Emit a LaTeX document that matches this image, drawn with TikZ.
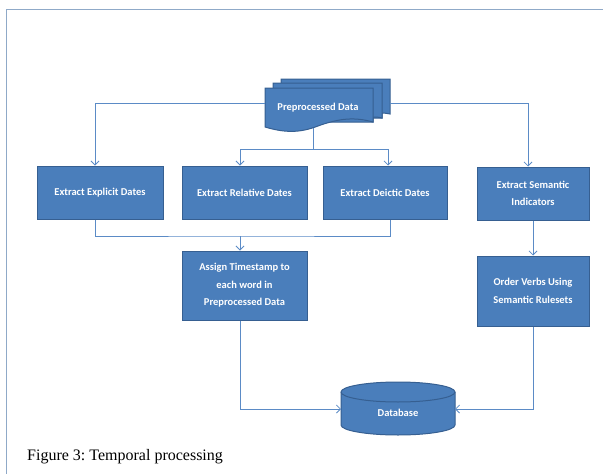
\documentclass[tikz,border=0pt]{standalone}
\usepackage{fontspec}
\setmainfont{Liberation Serif}
\newfontfamily\boxfont{Carlito}
\usetikzlibrary{arrows.meta}
\frenchspacing
\definecolor{boxfill}{HTML}{4A7EBB}
\definecolor{boxedge}{HTML}{365F91}
\definecolor{linecol}{HTML}{5B8BC6}
\definecolor{framecol}{HTML}{8FA9C8}
\tikzset{
  x=1pt, y=-1pt,
  boxtext/.style={text=white, font=\boxfont\bfseries\fontsize{10.5}{17.5}\selectfont},
  procbox/.style={boxtext, draw=boxedge, line width=1pt, fill=boxfill, align=center, inner sep=2pt},
  conn/.style={draw=linecol, line width=0.8pt},
  arr/.style={conn, -{Straight Barb[length=4pt,width=8pt]}},
  docshape/.style={draw=boxedge, line width=1pt, fill=boxfill}
}
\begin{document}
\begin{tikzpicture}
\useasboundingbox (0,0) rectangle (603,474);
% frame
\draw[framecol, line width=1.5pt] (6.5,474) -- (6.5,9.5) -- (603,9.5);

% multi-document shape
\draw[docshape] (281,79) -- (390,79) -- (390,114) .. controls (385,113) and (383,113) .. (382,113) -- (382,118) -- (281,118) -- cycle;
\draw[docshape] (273,83) -- (382,83) -- (382,118) .. controls (378,117) and (376,117) .. (373,117) -- (373,122) -- (273,122) -- cycle;
\draw[docshape] (265,88) -- (373,88) -- (373,122) .. controls (355,117) and (340,118) .. (318,126) .. controls (300,133) and (285,133) .. (265,127) -- cycle;
\node[boxtext] (pre) at (318,108) {Preprocessed Data};
\coordinate (preL) at (265,103);
\coordinate (preR) at (390,103);
\coordinate (preB) at (313,128);
\coordinate (split) at (313,149);

% boxes
\node[procbox, minimum width=126pt, minimum height=53pt] (expl) at (100,192.5) {Extract Explicit Dates};
\node[procbox, minimum width=125pt, minimum height=53pt] (rel) at (244.5,192.5) {Extract Relative Dates};
\node[procbox, minimum width=124pt, minimum height=53pt] (deic) at (385,192.5) {Extract Deictic Dates};
\node[procbox, minimum width=112pt, minimum height=53pt] (sem) at (533,193.5) {Extract Semantic\\Indicators};
\node[procbox, minimum width=125pt, minimum height=69pt] (assign) at (244.5,285.5) {Assign Timestamp to\\each word in\\Preprocessed Data};
\node[procbox, minimum width=112pt, minimum height=70pt] (order) at (533,291) {Order Verbs Using\\Semantic Rulesets};

% database cylinder
\draw[docshape] (341,392) -- (341,425) arc[start angle=180, end angle=0, x radius=57, y radius=10] -- (455,392) arc[start angle=0, end angle=-180, x radius=57, y radius=10] -- cycle;
\draw[boxedge, line width=1pt] (341,392) arc[start angle=180, end angle=0, x radius=57, y radius=10];
\node[boxtext] (db) at (398,413) {Database};
\coordinate (dbL) at (341,409);
\coordinate (dbR) at (455,409);
\coordinate (merge) at (240,236);

% connectors
\draw[arr] (preL) -| ([xshift=-5pt]expl.north);
\draw[arr] (preR) -| ([xshift=-5pt]sem.north);
\draw[conn] (preB) -- (split);
\draw[arr] (split) -| ([xshift=-4.5pt]rel.north);
\draw[arr] (split) -| ([xshift=3pt]deic.north);
\draw[conn] ([xshift=-5pt]expl.south) |- (merge) -| ([xshift=5pt]deic.south);
\draw[arr] (merge) -- ([xshift=-4.5pt]assign.north);
\draw[arr] (sem.south) -- (order.north);
\draw[arr] ([xshift=-4.5pt]assign.south) |- (dbL);
\draw[arr] (order.south) |- (dbR);

% caption
\node[anchor=base west, font=\fontsize{16}{18}\selectfont, inner sep=0pt] (cap) at (27,460) {Figure 3: Temporal processing};
\end{tikzpicture}
\end{document}
